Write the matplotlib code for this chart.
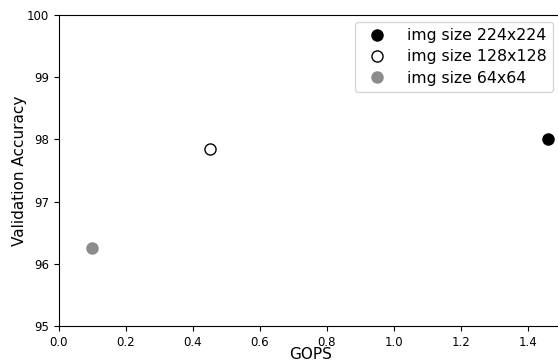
import matplotlib
matplotlib.use("Agg")
import matplotlib.pyplot as plt

# data
labels = ["img size 224x224", "img size 128x128", "img size 64x64"]
gops = [1.46, 0.45, 0.10]
accuracy = [98.0, 97.85, 96.25]
face_colors = ["black", "white", "#8c8c8c"]
edge_colors = ["black", "black", "#8c8c8c"]

fig = plt.figure(figsize=(5.58, 3.64), dpi=100)
# right spine sits just past the figure edge, as in the cropped original
ax = fig.add_axes([0.1057, 0.1044, 0.9, 0.8544])

for x, y, fc, ec, lab in zip(gops, accuracy, face_colors, edge_colors, labels):
    ax.plot(x, y, "o", markersize=8, markerfacecolor=fc, markeredgecolor=ec,
            markeredgewidth=1, linestyle="none", label=lab)

ax.set_xlim(0, 1.5)
ax.set_ylim(95, 100)
ax.set_xticks([0.0, 0.2, 0.4, 0.6, 0.8, 1.0, 1.2, 1.4])
ax.set_yticks([95, 96, 97, 98, 99, 100])
ax.tick_params(labelsize=8.5)
ax.set_xlabel("GOPS", fontsize=11, labelpad=-1)
ax.set_ylabel("Validation Accuracy", fontsize=11, labelpad=0)
leg = ax.legend(loc="upper right", fontsize=11.3, handletextpad=0.9,
                labelspacing=0.4, borderaxespad=0, bbox_to_anchor=(0.991, 0.94),
                bbox_transform=fig.transFigure)

fig.savefig("out.png", dpi=100)
